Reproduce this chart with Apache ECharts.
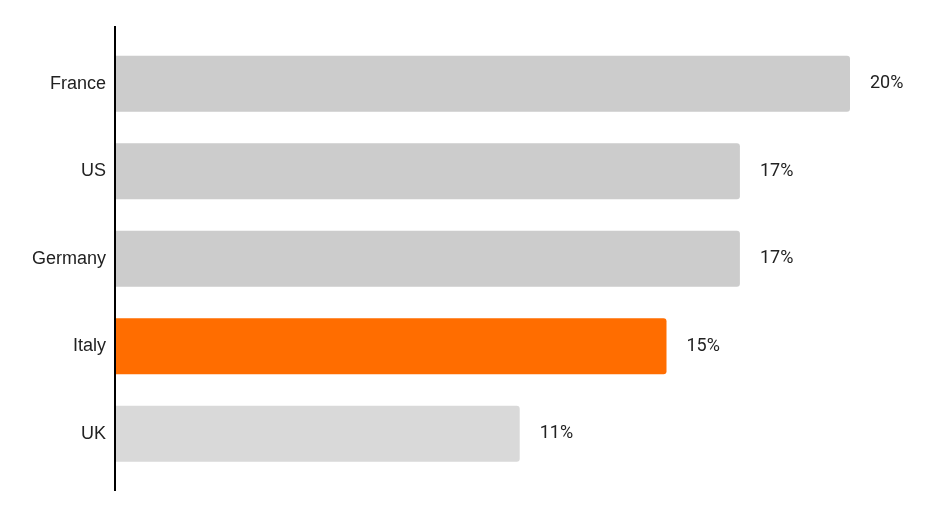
<!DOCTYPE html>
<html>
<head>
<meta charset="utf-8">
<script src="https://cdn.jsdelivr.net/npm/echarts@6/dist/echarts.min.js"></script>
<style>
html,body{margin:0;padding:0;background:#fff;}
#chart{width:946px;height:508px;}
</style>
</head>
<body>
<div id="chart"></div>
<script>
const categories = ["France", "US", "Germany", "Italy", "UK"];
const values = [20, 17, 17, 15, 11];
const barColors = ["#cccccc", "#cccccc", "#cccccc", "#ff6d00", "#d9d9d9"];

const chart = echarts.init(document.getElementById('chart'));
chart.setOption({
  animation: false,
  backgroundColor: '#ffffff',
  grid: { left: 116, right: 96, top: 40, bottom: 30.5, containLabel: false },
  xAxis: {
    type: 'value', min: 0, max: 20, show: false
  },
  yAxis: {
    type: 'category',
    data: categories,
    inverse: true,
    axisLine: { show: false },
    axisTick: { show: false },
    axisLabel: { color: '#222', fontFamily: 'Liberation Sans, Arial, sans-serif', fontSize: 18, margin: 10 }
  },
  graphic: [{
    type: 'line',
    shape: { x1: 115, y1: 26, x2: 115, y2: 491 },
    style: { stroke: '#000', lineWidth: 2 },
    z: 10
  }],
  series: [{
    type: 'bar',
    barCategoryGap: '36%',
    data: values.map((v, i) => ({ value: v, itemStyle: { color: barColors[i], borderRadius: [0, 3, 3, 0] } })),
    label: {
      show: true,
      position: 'right',
      distance: 20,
      formatter: p => p.value + '%',
      color: '#222',
      fontFamily: 'Roboto, sans-serif',
      fontSize: 18
    }
  }]
});
</script>
</body>
</html>
